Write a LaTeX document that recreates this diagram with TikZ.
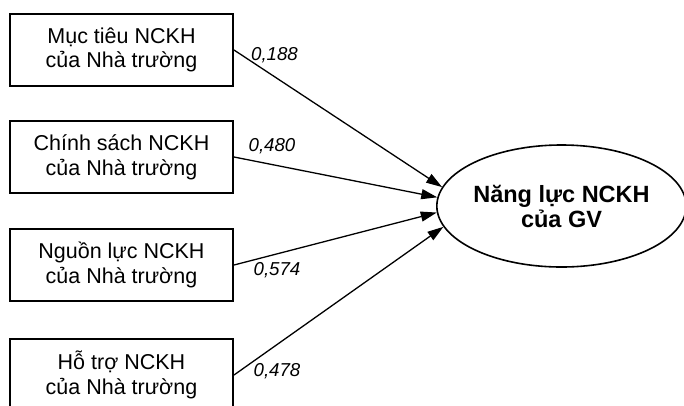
\documentclass[tikz,border=0pt]{standalone}
\usepackage{fontspec}
\setmainfont{Liberation Sans}
\usetikzlibrary{arrows.meta,shapes.geometric}
\begin{document}
\begin{tikzpicture}[x=1pt,y=-1pt,
  box/.style={draw,line width=2pt,minimum width=223pt,minimum height=72pt,inner sep=0pt,align=center,font=\fontsize{21.5}{24.7}\selectfont},
  latent/.style={ellipse,draw,line width=1.6pt,minimum width=242pt,minimum height=122pt,inner sep=0pt,align=center,font=\bfseries\fontsize{23.5}{25}\selectfont},
  conn/.style={line width=1.3pt,-{Triangle[length=16pt,width=10pt]}},
  coef/.style={font=\itshape\fontsize{18.7}{20}\selectfont,inner sep=0pt}]
\useasboundingbox (0,0) rectangle (684,405);
\clip (0,0) rectangle (684,405);
\node[box] (b1) at (121.5,50) {Mục tiêu NCKH\\của Nhà trường};
\node[box] (b2) at (121.5,157) {Chính sách NCKH\\của Nhà trường};
\node[box] (b3) at (121.5,265) {Nguồn lực NCKH\\của Nhà trường};
\node[box] (b4) at (121.5,375) {Hỗ trợ NCKH\\của Nhà trường};
\node[latent] (e) at (561.5,206) {Năng lực NCKH\\của GV};
\draw[conn] (b1.east) -- (e.171.4);
\draw[conn] (b2.east) -- (e.176.8);
\draw[conn] (b3.east) -- (e.183.5);
\draw[conn] (b4.east) -- (e.190);
\node[coef] (c1) at (274.5,55.4) {0,188};
\node[coef] (c2) at (272,145.9) {0,480};
\node[coef] (c3) at (277,270.4) {0,574};
\node[coef] (c4) at (277,371.4) {0,478};
\end{tikzpicture}
\end{document}
